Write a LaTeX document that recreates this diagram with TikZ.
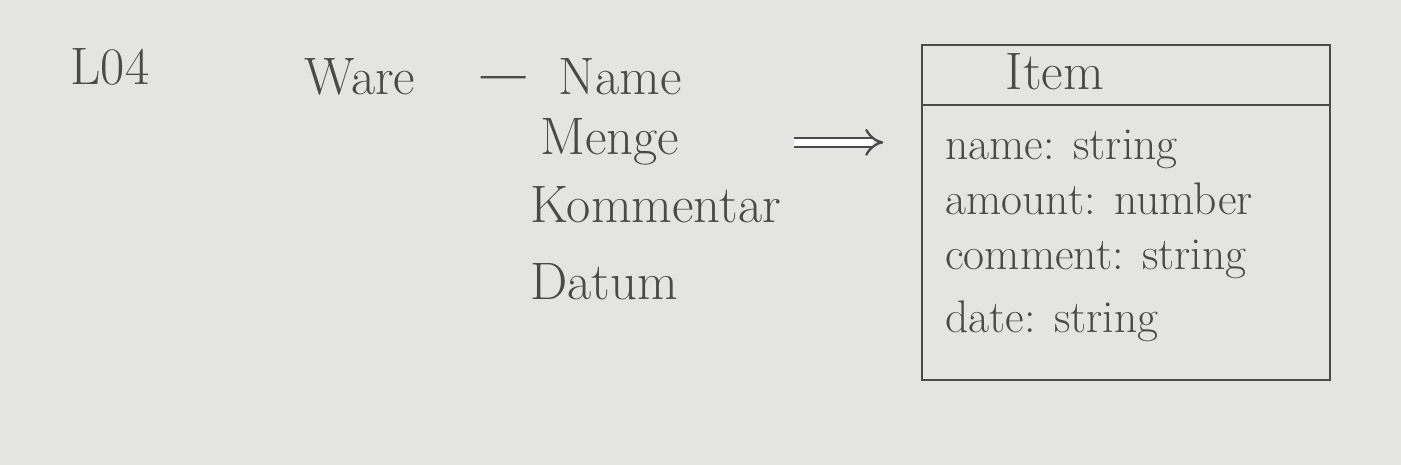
\documentclass[tikz,border=0pt]{standalone}
\usepackage{xcolor}
\usepackage{tikz}
\usetikzlibrary{arrows.meta}
\definecolor{pencil}{HTML}{4A4A4A}
\definecolor{paper}{HTML}{E4E4E2}

\begin{document}
\begin{tikzpicture}[
  word/.style={text=pencil,inner sep=0pt,anchor=base,font=\fontsize{30}{36}\selectfont},
  field/.style={text=pencil,inner sep=0pt,anchor=base west,font=\fontsize{26}{31}\selectfont},
  stroke/.style={draw=pencil,line width=1.3pt},
  arr/.style={stroke,double,double distance=4pt,-{Implies}}]
  \fill[paper] (0,0) rectangle (28.02,9.3);
  \useasboundingbox (0,0) rectangle (28.02,9.3);
  \node[word] (L) at (2.2,7.6) {L04};
  \node[word] (W) at (7.2,7.4) {Ware};
  \node[word] (N) at (12.4,7.4) {Name};
  \node[word,anchor=base west] (M) at (10.8,6.2) {Menge};
  \node[word,anchor=base west] (K) at (10.6,4.85) {Kommentar};
  \node[word,anchor=base west] (D) at (10.6,3.3) {Datum};
  % class box
  \node[stroke,minimum width=8.16cm,minimum height=6.7cm,inner sep=0pt] (box) at (22.52,5.05) {};
  \coordinate (hl) at (box.west |- 0,7.2);
  \coordinate (hr) at (box.east |- 0,7.2);
  \draw[stroke] (hl) -- (hr);
  \node[word] (I) at (21.1,7.5) {Item};
  \node[field] (f1) at (18.9,6.1) {name: string};
  \node[field] (f2) at (18.9,5.0) {amount: number};
  \node[field] (f3) at (18.9,3.9) {comment: string};
  \node[field] (f4) at (18.9,2.65) {date: string};
  \draw[stroke,shorten <=1.3cm,shorten >=0.65cm] (W.east) -- (N.west);
  \draw[arr,shorten <=2.3cm,shorten >=0.75cm] (M.east) -- (box.west |- M.east);
\end{tikzpicture}
\end{document}
